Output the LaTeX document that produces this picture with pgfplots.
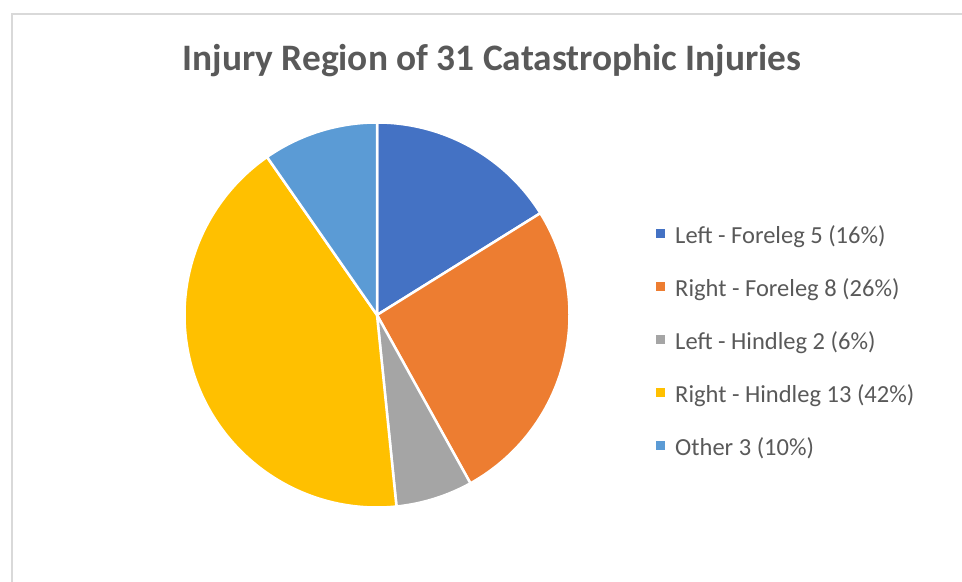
\documentclass[border=0pt]{standalone}
\usepackage{fontspec}
\setmainfont{Carlito}
\usepackage{pgfplots}
\usepackage{pgfplotstable}
\pgfplotsset{compat=1.18}

\definecolor{cLF}{HTML}{4472C4}
\definecolor{cRF}{HTML}{ED7D31}
\definecolor{cLH}{HTML}{A5A5A5}
\definecolor{cRH}{HTML}{FFC000}
\definecolor{cOT}{HTML}{5B9BD5}
\definecolor{txt}{HTML}{595959}
\definecolor{frame}{HTML}{D9D9D9}

\pgfplotstableread[col sep=comma]{
label,value,color
Left - Foreleg,5,cLF
Right - Foreleg,8,cRF
Left - Hindleg,2,cLH
Right - Hindleg,13,cRH
Other,3,cOT
}\injuries

\begin{document}
\begin{tikzpicture}[x=1bp,y=1bp]
\useasboundingbox (0,0) rectangle (962,582);
\draw[frame, line width=2bp] (11.5,0) -- (11.5,567.5) -- (970,567.5);
\node[font=\bfseries\fontsize{37.5}{42}\selectfont, text=txt] at (492,521) {Injury Region of 31 Catastrophic Injuries};

\begin{axis}[
    at={(377bp,267bp)}, anchor=center,
    scale only axis, width=385bp, height=385bp,
    xmin=-1, xmax=1, ymin=-1, ymax=1,
    hide axis, clip=false,
    legend cell align=left,
    legend image code/.code={\fill[#1] (0bp,-1bp) rectangle (9bp,8bp); \path (19bp,0bp);},
    legend style={
        at={(1.2247,0.7338)}, anchor=north west,
        draw=none, fill=none, inner sep=0pt,
        row sep=29bp, column sep=0pt,
        font=\fontsize{24.6}{28}\selectfont, text=txt,
        nodes={inner sep=0pt, text height=18bp, text depth=6bp},
    },
]
\def\total{31}
\def\a{90}
\pgfplotsforeachungrouped \i in {0,...,4}{
    \pgfplotstablegetelem{\i}{value}\of\injuries \let\v=\pgfplotsretval
    \pgfplotstablegetelem{\i}{color}\of\injuries \let\c=\pgfplotsretval
    \pgfplotstablegetelem{\i}{label}\of\injuries \let\l=\pgfplotsretval
    \pgfmathsetmacro\b{\a-360*\v/\total}
    \pgfmathtruncatemacro\p{round(100*\v/\total)}
    \edef\temp{\noexpand\filldraw[fill=\c, draw=white, line width=2.5bp, line join=round]
        (axis cs:0,0) -- (axis cs:{cos(\a)},{sin(\a)})
        arc[start angle=\a, end angle=\b, radius=192.5bp] -- cycle;}
    \temp
    \edef\temp{\noexpand\addlegendimage{fill=\c, draw=none}}
    \temp
    \addlegendentryexpanded{\l\space\v\space(\p\%)}
    \global\let\a\b
}
\end{axis}
\end{tikzpicture}
\end{document}
